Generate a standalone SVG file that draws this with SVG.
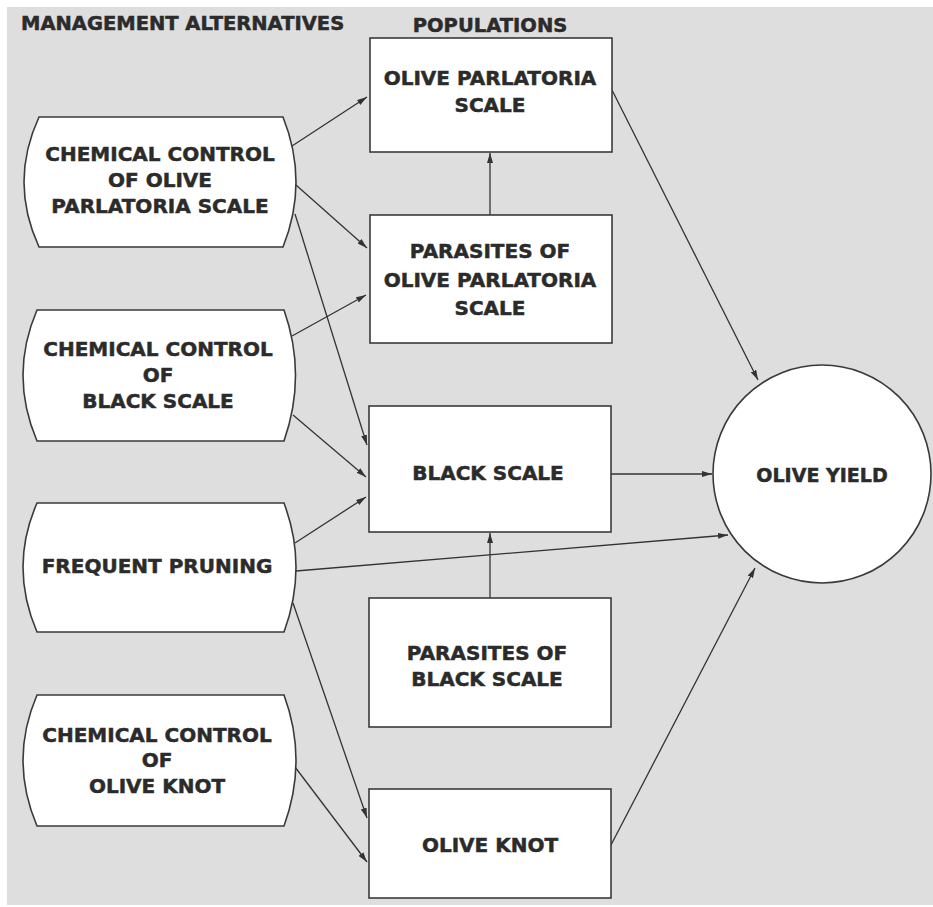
<svg xmlns="http://www.w3.org/2000/svg" width="933" height="907" viewBox="0 0 933 907">
<defs>
<marker id="ah" viewBox="0 0 10 6" refX="10" refY="3" markerWidth="10" markerHeight="6" markerUnits="userSpaceOnUse" orient="auto">
<path d="M0,0 L10,3 L0,6 Z" fill="#333"/>
</marker>
<style>
.bg{fill:#dedede}
.shape{fill:#ffffff;stroke:#3a3a3a;stroke-width:1.6}
.t{font-family:"DejaVu Sans",sans-serif;font-weight:bold;font-size:20px;fill:#2b2b2b;stroke:#2b2b2b;stroke-width:0.5;text-anchor:middle}
.h{font-family:"DejaVu Sans",sans-serif;font-weight:bold;font-size:19.5px;fill:#2b2b2b;stroke:#2b2b2b;stroke-width:0.5}
.c{fill:none;stroke:#333;stroke-width:1.3;marker-end:url(#ah)}
</style>
</defs>
<rect x="0" y="0" width="933" height="907" fill="#ffffff"/>
<rect class="bg" x="7" y="7" width="926" height="898"/>

<text class="h" x="21" y="30">MANAGEMENT ALTERNATIVES</text>
<text class="h" x="490" y="32" text-anchor="middle">POPULATIONS</text>

<g id="connectors">
<line class="c" x1="292" y1="146" x2="367" y2="97"/>
<line class="c" x1="296" y1="185" x2="367" y2="248"/>
<line class="c" x1="295" y1="214" x2="367" y2="445"/>
<line class="c" x1="292" y1="336" x2="366" y2="295"/>
<line class="c" x1="293" y1="415" x2="366" y2="477"/>
<line class="c" x1="295" y1="543" x2="366" y2="497"/>
<line class="c" x1="296" y1="571" x2="728" y2="535"/>
<line class="c" x1="293" y1="603" x2="367" y2="818"/>
<line class="c" x1="295" y1="767" x2="367" y2="862"/>
<line class="c" x1="490" y1="215" x2="490" y2="153"/>
<line class="c" x1="490" y1="598" x2="490" y2="533"/>
<line class="c" x1="612" y1="90" x2="758" y2="380"/>
<line class="c" x1="611" y1="474" x2="712" y2="474"/>
<line class="c" x1="611" y1="845" x2="755" y2="568"/>
</g>

<g id="chem-parlatoria">
<path class="shape" d="M39,117 L283,117 Q309,182 283,247 L39,247 Q9,182 39,117 Z"/>
<text class="t" x="160" y="161">CHEMICAL CONTROL</text>
<text class="t" x="160" y="187">OF OLIVE</text>
<text class="t" x="160" y="213">PARLATORIA SCALE</text>
</g>
<g id="chem-black">
<path class="shape" d="M37,310 L284,310 Q307,375 284,441 L37,441 Q9,375 37,310 Z"/>
<text class="t" x="158" y="356">CHEMICAL CONTROL</text>
<text class="t" x="158" y="382">OF</text>
<text class="t" x="158" y="408">BLACK SCALE</text>
</g>
<g id="pruning">
<path class="shape" d="M37,503 L284,503 Q308,567 284,632 L37,632 Q9,567 37,503 Z"/>
<text class="t" x="157" y="573">FREQUENT PRUNING</text>
</g>
<g id="chem-knot">
<path class="shape" d="M37,695 L284,695 Q308,760 284,826 L37,826 Q9,760 37,695 Z"/>
<text class="t" x="157" y="742">CHEMICAL CONTROL</text>
<text class="t" x="157" y="767">OF</text>
<text class="t" x="157" y="793">OLIVE KNOT</text>
</g>

<g id="pop-parlatoria">
<rect class="shape" x="370" y="38" width="242" height="114"/>
<text class="t" x="490" y="85">OLIVE PARLATORIA</text>
<text class="t" x="490" y="112">SCALE</text>
</g>
<g id="parasites-parlatoria">
<rect class="shape" x="370" y="215" width="242" height="128"/>
<text class="t" x="490" y="258">PARASITES OF</text>
<text class="t" x="490" y="287">OLIVE PARLATORIA</text>
<text class="t" x="490" y="315">SCALE</text>
</g>
<g id="black-scale">
<rect class="shape" x="369" y="406" width="242" height="126"/>
<text class="t" x="488" y="480">BLACK SCALE</text>
</g>
<g id="parasites-black">
<rect class="shape" x="369" y="598" width="242" height="129"/>
<text class="t" x="487" y="660">PARASITES OF</text>
<text class="t" x="487" y="686">BLACK SCALE</text>
</g>
<g id="olive-knot">
<rect class="shape" x="369" y="789" width="242" height="109"/>
<text class="t" x="490" y="852">OLIVE KNOT</text>
</g>
<g id="olive-yield">
<circle class="shape" cx="822" cy="474" r="109"/>
<text class="t" x="822" y="482" style="font-size:19px">OLIVE YIELD</text>
</g>
</svg>
